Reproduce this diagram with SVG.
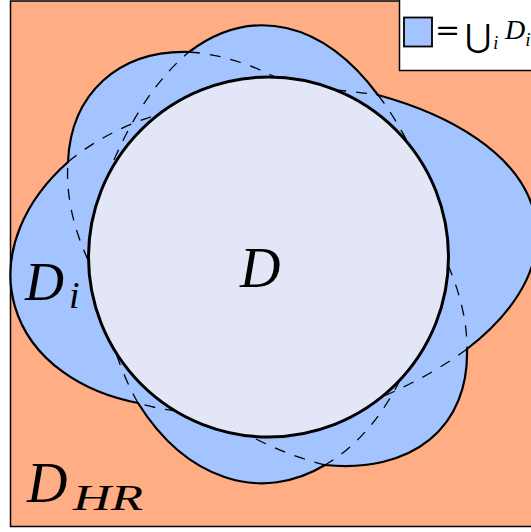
<svg xmlns="http://www.w3.org/2000/svg" width="531" height="532" viewBox="0 0 531 532">
  <style>
    .outline { fill: #A4C4FF; stroke: #000; stroke-width: 2.2; stroke-linejoin: miter; }
    .dash { fill: none; stroke: #000; stroke-width: 1.3; stroke-dasharray: 11 10; }
    .math { font-family: "Liberation Serif", "DejaVu Serif", serif; font-style: italic; fill: #000; }
    .sym { font-family: "DejaVu Serif", "DejaVu Sans", serif; fill: #000; }
  </style>
  <rect width="531" height="532" fill="#FFFFFF"/>
  <g id="region-DHR">
    <rect x="10.5" y="1" width="540" height="525.5" fill="#FFAD85" stroke="#000" stroke-width="1.5"/>
  </g>
  <g id="union-Di">
    <path class="outline" d="M68,162 A217,147 45 0 1 189,52 A200,380 0 0 1 378,95 A383,187 -5.86 0 1 467,349 A267,160 40.5 0 1 325,465 A170,255 0 0 1 138,403 A206,151 -13.9 0 1 68,162 Z"/>
  </g>
  <g id="ellipse-arcs">
    <path class="dash" d="M88,260 A217,147 45 0 1 68,162"/>
    <path class="dash" d="M189,52 A217,147 45 0 1 275,77"/>
    <path class="dash" d="M114,160 A200,380 0 0 1 189,52"/>
    <path class="dash" d="M378,95 A200,380 0 0 1 408,143"/>
    <path class="dash" d="M335,90 A383,187 -5.86 0 1 378,95"/>
    <path class="dash" d="M467,349 A383,187 -5.86 0 1 384,396"/>
    <path class="dash" d="M448,265 A267,160 40.5 0 1 467,349"/>
    <path class="dash" d="M325,465 A267,160 40.5 0 1 252,437"/>
    <path class="dash" d="M400,380 A170,255 0 0 1 325,465"/>
    <path class="dash" d="M138,403 A170,255 0 0 1 115,350"/>
    <path class="dash" d="M176,411 A206,151 -13.9 0 1 138,403"/>
    <path class="dash" d="M68,162 A206,151 -13.9 0 1 160,114"/>
  </g>
  <g id="circle-D">
    <circle cx="268.5" cy="257" r="180" fill="#E3E6F7" stroke="#000" stroke-width="3"/>
    <text class="math" x="240" y="287" font-size="56">D</text>
  </g>
  <g id="label-Di">
    <text class="math" x="25" y="300" font-size="54">D</text>
    <text class="math" x="69" y="308" font-size="38">i</text>
  </g>
  <g id="label-DHR">
    <text class="math" x="27" y="502" font-size="56">D</text>
    <text class="math" x="73" y="510" font-size="36" textLength="70" lengthAdjust="spacingAndGlyphs">HR</text>
  </g>
  <g id="legend">
    <rect x="399.5" y="-1" width="140" height="71.5" fill="#FFFFFF" stroke="#000" stroke-width="1.5"/>
    <rect x="404" y="17.5" width="28" height="29" fill="#A4C4FF" stroke="#000" stroke-width="1.8"/>
    <text class="sym" x="435" y="40" font-size="30">=</text>
    <text class="sym" x="465" y="47" font-size="32">⋃<tspan font-family="Liberation Serif, DejaVu Serif, serif" font-style="italic" font-size="18" dx="2" dy="2">i</tspan></text>
    <text class="math" x="505" y="39" font-size="28">D<tspan font-size="19" dy="7">i</tspan></text>
  </g>
</svg>
